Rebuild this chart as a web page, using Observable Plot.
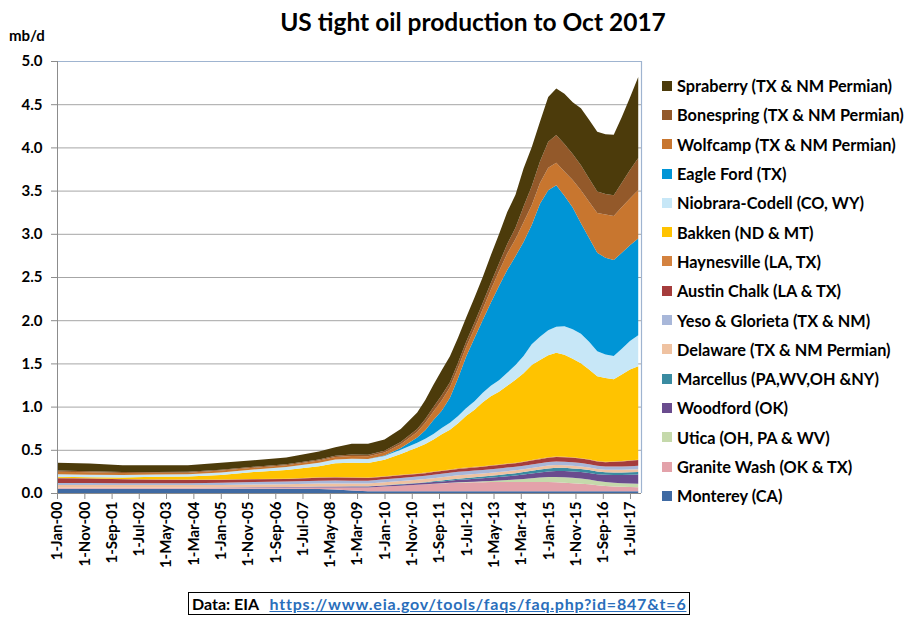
<!DOCTYPE html>
<html>
<head>
<meta charset="utf-8">
<script src="https://cdn.jsdelivr.net/npm/d3@7"></script>
<script src="https://cdn.jsdelivr.net/npm/@observablehq/plot@0.6"></script>
<style>
  html, body { margin: 0; padding: 0; background: #fff; }
  #wrap { position: relative; width: 909px; height: 617px; font-family: Lato, "Open Sans", sans-serif; color: #000; overflow: hidden; }
  #title { position: absolute; top: 7px; left: 473px; transform: translateX(-50%); white-space: nowrap; font-size: 24.5px; font-weight: bold; }
  #unit { position: absolute; top: 26px; left: 9px; font-size: 15px; font-weight: bold; }
  #chart { position: absolute; left: 0; top: 0; }
  #chart svg text { font-weight: bold; }
  #chart g[aria-label="y-axis tick"], #chart g[aria-label="x-axis tick"] { color: #8c8c8c; }
  #legend { position: absolute; left: 662px; top: 71px; }
  .row { height: 29.3px; display: flex; align-items: center; font-size: 16.3px; font-weight: bold; white-space: nowrap; }
  .sw { width: 10px; height: 10px; margin-right: 5px; flex: none; }
  #caption { position: absolute; left: 188px; top: 592px; width: 502px; height: 23px; border: 1px solid #000; font-size: 16px; font-weight: bold; line-height: 21px; white-space: nowrap; padding-left: 3px; box-sizing: border-box; }
  #caption .url { color: #2a6ebb; text-decoration: underline; margin-left: 7px; letter-spacing: 0.8px; }
</style>
</head>
<body>
<div id="wrap">
  <div id="chart"></div>
  <div id="title">US tight oil production to Oct 2017</div>
  <div id="unit">mb/d</div>
  <div id="legend"></div>
  <div id="caption">Data: EIA <span class="url">https://www.eia.gov/tools/faqs/faq.php?id=847&amp;t=6</span></div>
</div>
<script>
// ---- Data (mb/d) ----
const dates = ["2000-01","2001-01","2002-01","2003-01","2004-01","2005-01","2006-01","2007-01","2008-01","2008-07","2009-01","2009-07","2010-01","2010-07","2011-01","2011-04","2011-07","2011-10","2012-01","2012-04","2012-07","2012-10","2013-01","2013-04","2013-07","2013-10","2014-01","2014-04","2014-07","2014-10","2015-01","2015-04","2015-07","2015-10","2016-01","2016-04","2016-07","2016-10","2017-01","2017-04","2017-07","2017-10"];

const monterey    = [0.05,0.05,0.05,0.05,0.05,0.05,0.05,0.048,0.045,0.04,0.03,0.02,0.02,0.02,0.02,0.02,0.02,0.02,0.02,0.02,0.02,0.02,0.02,0.02,0.02,0.02,0.02,0.02,0.02,0.02,0.02,0.02,0.02,0.02,0.02,0.02,0.02,0.02,0.02,0.02,0.02,0.02];
const graniteWash = [0.01,0.01,0.01,0.01,0.01,0.01,0.012,0.015,0.02,0.025,0.035,0.045,0.055,0.065,0.075,0.08,0.085,0.09,0.095,0.1,0.102,0.104,0.105,0.106,0.107,0.108,0.108,0.108,0.108,0.108,0.106,0.104,0.1,0.094,0.088,0.08,0.07,0.062,0.056,0.052,0.05,0.048];
const utica       = [0,0,0,0,0,0,0,0,0,0,0,0,0,0,0.001,0.001,0.002,0.002,0.003,0.004,0.005,0.007,0.01,0.014,0.018,0.023,0.028,0.035,0.042,0.05,0.058,0.062,0.063,0.062,0.06,0.056,0.05,0.046,0.043,0.041,0.04,0.04];
const woodford    = [0.002,0.002,0.002,0.002,0.002,0.003,0.004,0.006,0.008,0.01,0.01,0.01,0.012,0.014,0.016,0.018,0.02,0.022,0.025,0.028,0.03,0.033,0.035,0.038,0.04,0.043,0.046,0.05,0.055,0.06,0.065,0.07,0.072,0.074,0.075,0.076,0.078,0.082,0.088,0.094,0.1,0.105];
const marcellus   = [0,0,0,0,0,0,0,0,0.001,0.001,0.002,0.002,0.003,0.004,0.005,0.006,0.008,0.01,0.012,0.014,0.016,0.018,0.02,0.022,0.024,0.026,0.028,0.03,0.032,0.034,0.036,0.036,0.036,0.035,0.034,0.033,0.032,0.031,0.031,0.031,0.031,0.031];
const delaware    = [0.03,0.03,0.03,0.03,0.03,0.03,0.032,0.033,0.035,0.035,0.033,0.032,0.033,0.035,0.036,0.037,0.037,0.038,0.038,0.038,0.038,0.037,0.036,0.035,0.034,0.033,0.032,0.032,0.032,0.032,0.032,0.032,0.031,0.031,0.03,0.03,0.029,0.029,0.03,0.03,0.03,0.031];
const yeso        = [0.025,0.025,0.022,0.022,0.022,0.025,0.028,0.03,0.032,0.033,0.033,0.034,0.035,0.036,0.037,0.038,0.039,0.04,0.04,0.041,0.041,0.041,0.041,0.041,0.041,0.041,0.041,0.041,0.041,0.041,0.041,0.041,0.04,0.04,0.039,0.038,0.037,0.037,0.038,0.038,0.039,0.04];
const austinChalk = [0.055,0.05,0.045,0.04,0.038,0.035,0.032,0.03,0.035,0.035,0.033,0.03,0.03,0.03,0.03,0.03,0.031,0.032,0.033,0.034,0.035,0.036,0.037,0.038,0.04,0.041,0.042,0.043,0.045,0.047,0.05,0.052,0.052,0.052,0.052,0.052,0.05,0.05,0.055,0.06,0.063,0.066];
const haynesville = [0.005,0.005,0.004,0.004,0.004,0.004,0.004,0.004,0.005,0.005,0.005,0.005,0.006,0.006,0.007,0.007,0.007,0.007,0.007,0.007,0.007,0.007,0.007,0.007,0.007,0.006,0.006,0.006,0.006,0.006,0.006,0.006,0.006,0.006,0.005,0.005,0.005,0.005,0.005,0.005,0.005,0.005];
const bakken      = [0.01,0.01,0.015,0.03,0.035,0.05,0.08,0.1,0.13,0.16,0.17,0.17,0.19,0.24,0.3,0.33,0.37,0.42,0.46,0.52,0.6,0.66,0.74,0.8,0.84,0.9,0.96,1.02,1.1,1.14,1.18,1.2,1.18,1.14,1.1,1.04,0.98,0.97,0.95,1.0,1.05,1.08];
const niobrara    = [0.03,0.03,0.03,0.025,0.025,0.03,0.03,0.035,0.04,0.045,0.045,0.045,0.045,0.05,0.055,0.06,0.065,0.07,0.08,0.085,0.09,0.1,0.11,0.12,0.135,0.15,0.17,0.2,0.24,0.27,0.29,0.3,0.33,0.34,0.34,0.32,0.29,0.27,0.27,0.3,0.33,0.36];
const eagleFord   = [0,0,0,0,0,0,0,0,0,0,0,0,0.005,0.02,0.06,0.1,0.16,0.2,0.29,0.44,0.6,0.73,0.84,0.96,1.09,1.19,1.26,1.32,1.38,1.54,1.62,1.64,1.51,1.41,1.28,1.2,1.14,1.12,1.11,1.11,1.11,1.12];
const wolfcamp    = [0.03,0.028,0.024,0.02,0.019,0.022,0.021,0.021,0.024,0.027,0.032,0.033,0.035,0.045,0.065,0.085,0.1,0.12,0.12,0.12,0.11,0.115,0.13,0.15,0.17,0.19,0.2,0.23,0.23,0.24,0.26,0.26,0.28,0.32,0.38,0.42,0.46,0.5,0.51,0.53,0.54,0.56];
const bonespring  = [0.013,0.012,0.01,0.01,0.01,0.011,0.01,0.01,0.012,0.014,0.017,0.017,0.02,0.025,0.035,0.045,0.05,0.06,0.06,0.06,0.06,0.065,0.07,0.08,0.09,0.11,0.13,0.18,0.22,0.25,0.3,0.32,0.32,0.3,0.29,0.27,0.25,0.24,0.24,0.28,0.33,0.37];
const spraberry   = [0.09,0.088,0.078,0.077,0.075,0.08,0.077,0.078,0.093,0.1,0.125,0.127,0.13,0.15,0.19,0.22,0.26,0.29,0.3,0.29,0.28,0.29,0.3,0.32,0.34,0.37,0.38,0.44,0.45,0.46,0.52,0.54,0.58,0.6,0.66,0.68,0.69,0.69,0.7,0.76,0.84,0.94];

// stacking order: bottom to top
const seriesNames = ["Monterey (CA)","Granite Wash (OK & TX)","Utica (OH, PA & WV)","Woodford (OK)","Marcellus (PA,WV,OH &NY)","Delaware (TX & NM Permian)","Yeso & Glorieta (TX & NM)","Austin Chalk (LA & TX)","Haynesville (LA, TX)","Bakken (ND & MT)","Niobrara-Codell (CO, WY)","Eagle Ford (TX)","Wolfcamp (TX & NM Permian)","Bonespring (TX & NM Permian)","Spraberry (TX & NM Permian)"];
const seriesValues = [monterey, graniteWash, utica, woodford, marcellus, delaware, yeso, austinChalk, haynesville, bakken, niobrara, eagleFord, wolfcamp, bonespring, spraberry];
const seriesColors = ["#3f6aa3","#e3a2aa","#c5d9ab","#6a4c8e","#3a8ba1","#efc2a1","#a8b7d9","#a53c3c","#d4823f","#ffc300","#c7e7f7","#0095d6","#c8762f","#93592a","#4c3b0b"];

const yTicks = [0,0.5,1,1.5,2,2.5,3,3.5,4,4.5,5];
const xTickMonths = [0,10,20,30,40,50,60,70,80,90,100,110,120,130,140,150,160,170,180,190,200,210];

// ---- Build table ----
const parse = d3.utcParse("%Y-%m");
const table = [];
seriesNames.forEach((name, k) => {
  dates.forEach((d, i) => table.push({date: parse(d), name, value: seriesValues[k][i]}));
});
const xTicks = xTickMonths.map(m => new Date(Date.UTC(2000, m, 1)));
const x0 = new Date(Date.UTC(2000, 0, 1));
const x1 = new Date(Date.UTC(2017, 10, 1));

const chart = Plot.plot({
  width: 660,
  height: 585,
  marginLeft: 57,
  marginRight: 19,
  marginTop: 61,
  marginBottom: 92,
  style: {fontFamily: "Lato, 'Open Sans', sans-serif", fontSize: "15px", background: "transparent"},
  x: {type: "utc", domain: [x0, x1], ticks: xTicks, tickFormat: d3.utcFormat("%-d-%b-%y"), tickRotate: -90, tickSize: 6, tickPadding: 2, label: null},
  y: {domain: [0, 5], ticks: yTicks, tickFormat: d3.format(".1f"), tickSize: 6, tickPadding: 9, label: null},
  color: {domain: seriesNames, range: seriesColors},
  marks: [
    Plot.ruleY(yTicks.filter(v => v > 0), {stroke: "#a6a6a6", strokeWidth: 1}),
    Plot.areaY(table, {x: "date", y: "value", z: "name", fill: "name", order: seriesNames, curve: "linear"}),
    Plot.ruleX([x1], {stroke: "#9fb4d0", strokeWidth: 1.2}),
    Plot.ruleY([5], {stroke: "#9fb4d0", strokeWidth: 1}),
    Plot.ruleX([x0], {stroke: "#8c8c8c", strokeWidth: 1}),
    Plot.ruleY([0], {stroke: "#8c8c8c", strokeWidth: 1})
  ]
});
document.getElementById("chart").appendChild(chart);

// ---- Legend (top to bottom = reverse stacking order) ----
const legend = document.getElementById("legend");
for (let k = seriesNames.length - 1; k >= 0; k--) {
  const row = document.createElement("div");
  row.className = "row";
  const sw = document.createElement("span");
  sw.className = "sw";
  sw.style.background = seriesColors[k];
  const lab = document.createElement("span");
  lab.textContent = seriesNames[k];
  row.appendChild(sw);
  row.appendChild(lab);
  legend.appendChild(row);
}
</script>
</body>
</html>
